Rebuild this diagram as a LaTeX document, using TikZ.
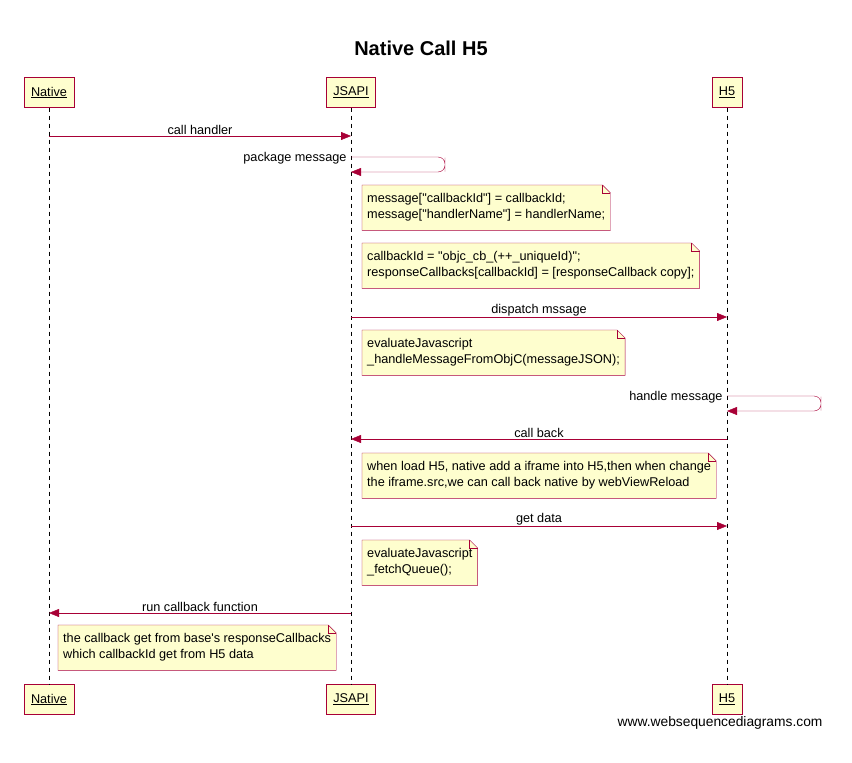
\documentclass[tikz,border=0pt]{standalone}
\usepackage{fontspec}
\setmainfont{Liberation Sans}[Ligatures=TeXOff]
\usetikzlibrary{arrows.meta,positioning}
\definecolor{wsdred}{HTML}{A80036}
\definecolor{wsdyellow}{HTML}{FEFECE}
% folded corner and outline of a note
\newcommand{\notefold}[1]{%
  \fill[white] ([xshift=-8pt]#1.north east) -- (#1.north east) -- ([yshift=-8pt]#1.north east) -- cycle;
  \draw[wsdred] (#1.south west) -- (#1.north west) -- ([xshift=-8pt]#1.north east)
    -- ([yshift=-8pt]#1.north east) -- (#1.south east) -- cycle;
  \draw[wsdred] ([xshift=-8pt]#1.north east) |- ([yshift=-8pt]#1.north east);}

\begin{document}
\begin{tikzpicture}[x=1pt,y=-1pt,font=\fontsize{12.7}{16}\selectfont,
	actor/.style={draw=wsdred,fill=wsdyellow,minimum height=30pt,inner xsep=7pt},
	note/.style={fill=wsdyellow,anchor=north west,align=left,minimum height=45pt,inner xsep=5pt},
	life/.style={dash pattern=on 4pt off 4pt},
	msg/.style={wsdred,-{Triangle[length=10pt,width=8pt]}},
	lbl/.style={above=1pt,inner sep=0pt,text=black}]
	\useasboundingbox (0,0) rectangle (852,763);
	\node (title) at (421,48) {\fontsize{20}{24}\selectfont\bfseries Native Call H5};
	\node[actor] (natTop) at (49,92.5) {\underline{Native}};
	\node[actor] (jsTop) at (351,92.5) {\underline{JSAPI}};
	\node[actor] (h5Top) at (727,92.5) {\underline{H5}};
	\node[actor] (natBot) at (49,699.5) {\underline{Native}};
	\node[actor] (jsBot) at (351,699.5) {\underline{JSAPI}};
	\node[actor] (h5Bot) at (727,699.5) {\underline{H5}};
	\node[anchor=east] (credit) at (826,723) {\fontsize{13.8}{16}\selectfont www.websequencediagrams.com};
	\draw[life] (natTop) -- (natBot);
	\draw[life] (jsTop) -- (jsBot);
	\draw[life] (h5Top) -- (h5Bot);
	\coordinate (pkgTurn) at (445,164.5);
	\coordinate (handleTurn) at (821,403.5);
	% messages
	\draw[msg] (natTop |- 0,136) -- node[lbl] {call handler} (jsTop |- 0,136);
	\draw[msg,rounded corners=7pt] (jsTop |- 0,157) node[left=1pt,yshift=-1pt,text=black] {package message}
		-| (pkgTurn) |- (jsTop |- 0,172);
	\node[note] (noteA) at (362,185) {message["callbackId"] = callbackId;\\message["handlerName"] = handlerName;};
	\notefold{noteA}
	\node[note] (noteB) at (362,243) {callbackId = "objc\_cb\_(++\_uniqueId)";\\responseCallbacks[callbackId] = [responseCallback copy];};
	\notefold{noteB}
	\draw[msg] (jsTop |- 0,317) -- node[lbl] {dispatch mssage} (h5Top |- 0,317);
	\node[note] (noteC) at (362,330) {evaluateJavascript\\\_handleMessageFromObjC(messageJSON);};
	\notefold{noteC}
	\draw[msg,rounded corners=7pt] (h5Top |- 0,396) node[left=1pt,yshift=-1pt,text=black] {handle message}
		-| (handleTurn) |- (h5Top |- 0,411);
	\draw[msg] (h5Top |- 0,439) -- node[lbl] {call back} (jsTop |- 0,439);
	\node[note] (noteD) at (362,453) {when load H5, native add a iframe into H5,then when change\\the iframe.src,we can call back native by webViewReload};
	\notefold{noteD}
	\draw[msg] (jsTop |- 0,526) -- node[lbl] {get data} (h5Top |- 0,526);
	\node[note] (noteE) at (362,540) {evaluateJavascript\\\_fetchQueue();};
	\notefold{noteE}
	\draw[msg] (jsTop |- 0,613) -- node[lbl] {run callback function} (natTop |- 0,613);
	\node[note] (noteF) at (58,625) {the callback get from base's responseCallbacks\\which callbackId get from H5 data};
	\notefold{noteF}
\end{tikzpicture}
\end{document}
